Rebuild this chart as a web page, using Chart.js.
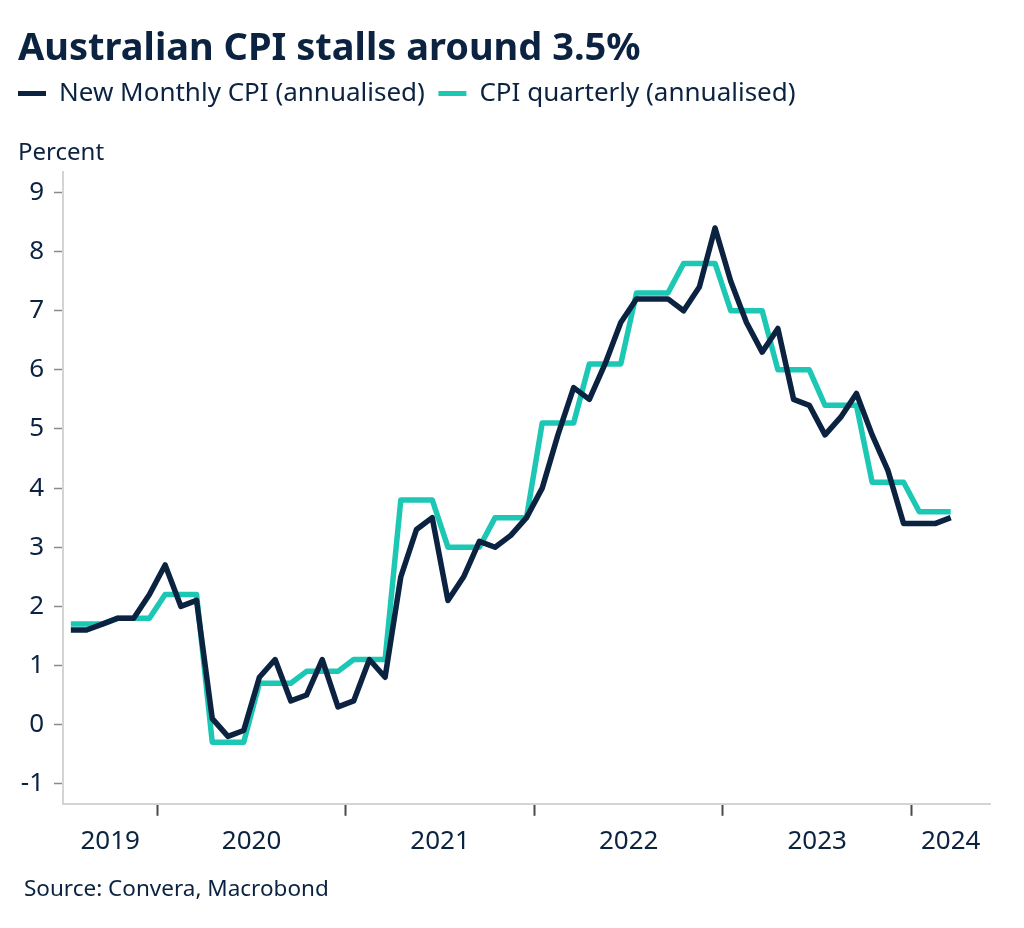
<!DOCTYPE html>
<html>
<head>
<meta charset="utf-8">
<title>Australian CPI stalls around 3.5%</title>
<script src="https://cdn.jsdelivr.net/npm/chart.js@4.4.1/dist/chart.umd.min.js"></script>
<style>
    html, body { margin: 0; padding: 0; background: #ffffff; }
    #wrap { width: 1024px; height: 928px; position: relative; }
</style>
</head>
<body>
<div id="wrap"><canvas id="cpiChart"></canvas></div>
<script>
// months counted from Jan 2019 = 0, so Jul 2019 = 6
const seriesStart = 6;
const xMin = 6;   // Jul 2019
const xMax = 65;  // end of May 2024

// Jul 2019 .. Mar 2024
const monthlyCPI = [
    1.6, 1.6, 1.7, 1.8, 1.8, 2.2,                          // 2019 H2
    2.7, 2.0, 2.1, 0.1, -0.2, -0.1, 0.8, 1.1, 0.4, 0.5, 1.1, 0.3, // 2020
    0.4, 1.1, 0.8, 2.5, 3.3, 3.5, 2.1, 2.5, 3.1, 3.0, 3.2, 3.5,   // 2021
    4.0, 4.9, 5.7, 5.5, 6.1, 6.8, 7.2, 7.2, 7.2, 7.0, 7.4, 8.4,   // 2022
    7.5, 6.8, 6.3, 6.7, 5.5, 5.4, 4.9, 5.2, 5.6, 4.9, 4.3, 3.4,   // 2023
    3.4, 3.4, 3.5                                                 // 2024
];

// Q3 2019 .. Q1 2024
const quarterlyCPI = [
    1.7, 1.8,
    2.2, -0.3, 0.7, 0.9,
    1.1, 3.8, 3.0, 3.5,
    5.1, 6.1, 7.3, 7.8,
    7.0, 6.0, 5.4, 4.1,
    3.6
];

const yearLabels = ['2019', '2020', '2021', '2022', '2023', '2024'];
const yearStarts = [12, 24, 36, 48, 60];
const yTicks = [-1, 0, 1, 2, 3, 4, 5, 6, 7, 8, 9];

const navy = '#0b2341';
const teal = '#1cc8b4';
const fontFamily = '"Noto Sans", "Open Sans", sans-serif';

Chart.defaults.font.family = fontFamily;
Chart.defaults.color = navy;

// monthly points sit mid-month, quarterly value held for each month of its quarter
const monthlyPoints = monthlyCPI.map((v, i) => ({ x: seriesStart + i + 0.5, y: v }));
const quarterlyPoints = quarterlyCPI.flatMap((v, q) =>
    [0, 1, 2].map(k => ({ x: seriesStart + q * 3 + k + 0.5, y: v })));

// year labels centred on the visible part of each year
const edges = [xMin, ...yearStarts, xMax];
const labelAt = {};
yearLabels.forEach((yr, i) => { labelAt[(edges[i] + edges[i + 1]) / 2] = yr; });
const xTickValues = [...yearStarts, ...Object.keys(labelAt).map(Number)].sort((a, b) => a - b);

const sourceNote = {
    id: 'sourceNote',
    afterDraw(chart) {
        const { ctx } = chart;
        ctx.save();
        ctx.font = `22.5px ${fontFamily}`;
        ctx.fillStyle = navy;
        ctx.textBaseline = 'middle';
        ctx.fillText('Source: Convera, Macrobond', 24, chart.height - 38);
        ctx.restore();
    }
};

const ctx = document.getElementById('cpiChart').getContext('2d');
new Chart(ctx, {
    type: 'line',
    data: {
        datasets: [
            {
                label: 'New Monthly CPI (annualised)',
                data: monthlyPoints,
                borderColor: navy,
                backgroundColor: navy,
                borderWidth: 5.5,
                borderJoinStyle: 'round',
                pointRadius: 0,
                tension: 0,
                fill: false
            },
            {
                label: 'CPI quarterly (annualised)',
                data: quarterlyPoints,
                borderColor: teal,
                backgroundColor: teal,
                borderWidth: 5.5,
                borderJoinStyle: 'round',
                pointRadius: 0,
                tension: 0,
                fill: false
            }
        ]
    },
    options: {
        responsive: true,
        maintainAspectRatio: false,
        animation: false,
        layout: { padding: { top: 0, left: 18, right: 34, bottom: 61 } },
        plugins: {
            title: {
                display: true,
                text: 'Australian CPI stalls around 3.5%',
                align: 'start',
                color: navy,
                font: { size: 38, weight: 'bold', lineHeight: 1.2 },
                padding: { top: 26, bottom: 9 }
            },
            legend: {
                display: true,
                position: 'top',
                align: 'start',
                labels: {
                    font: { size: 26 },
                    color: navy,
                    boxWidth: 28,
                    boxHeight: 5,
                    padding: 0,
                    // solid swatches, a little air after every item but the last
                    generateLabels: chart => {
                        const items = Chart.defaults.plugins.legend.labels.generateLabels(chart);
                        return items.map((l, i) => ({
                            ...l,
                            text: i < items.length - 1 ? l.text + '  ' : l.text,
                            lineWidth: 0,
                            fillStyle: l.strokeStyle
                        }));
                    }
                }
            },
            subtitle: {
                display: true,
                text: 'Percent',
                align: 'start',
                weight: 500,
                color: navy,
                font: { size: 24, lineHeight: 1.2 },
                padding: { top: 22, bottom: 5 }
            },
            tooltip: { enabled: false }
        },
        scales: {
            x: {
                type: 'linear',
                min: xMin,
                max: xMax,
                afterBuildTicks: scale => { scale.ticks = xTickValues.map(v => ({ value: v })); },
                grid: {
                    drawOnChartArea: false,
                    drawTicks: true,
                    tickLength: 12,
                    tickWidth: 2,
                    tickColor: c => (c.tick && yearStarts.includes(c.tick.value)) ? '#4a4a4a' : 'rgba(0,0,0,0)'
                },
                border: { display: true, color: '#d4d4d4', width: 2 },
                ticks: {
                    autoSkip: false,
                    maxRotation: 0,
                    minRotation: 0,
                    padding: 10,
                    color: navy,
                    font: { size: 26 },
                    callback: v => labelAt[v] || ''
                }
            },
            y: {
                min: -1.34,
                max: 9.34,
                afterBuildTicks: scale => { scale.ticks = yTicks.map(v => ({ value: v })); },
                afterFit: scale => { scale.width = 45; },
                grid: {
                    drawOnChartArea: false,
                    drawTicks: true,
                    tickLength: 9,
                    tickWidth: 1.5,
                    tickColor: '#8a8a8a'
                },
                border: { display: true, color: '#d4d4d4', width: 2 },
                ticks: {
                    padding: 10,
                    color: navy,
                    font: { size: 26 },
                    callback: v => String(v)
                }
            }
        }
    },
    plugins: [sourceNote]
});
</script>
</body>
</html>
